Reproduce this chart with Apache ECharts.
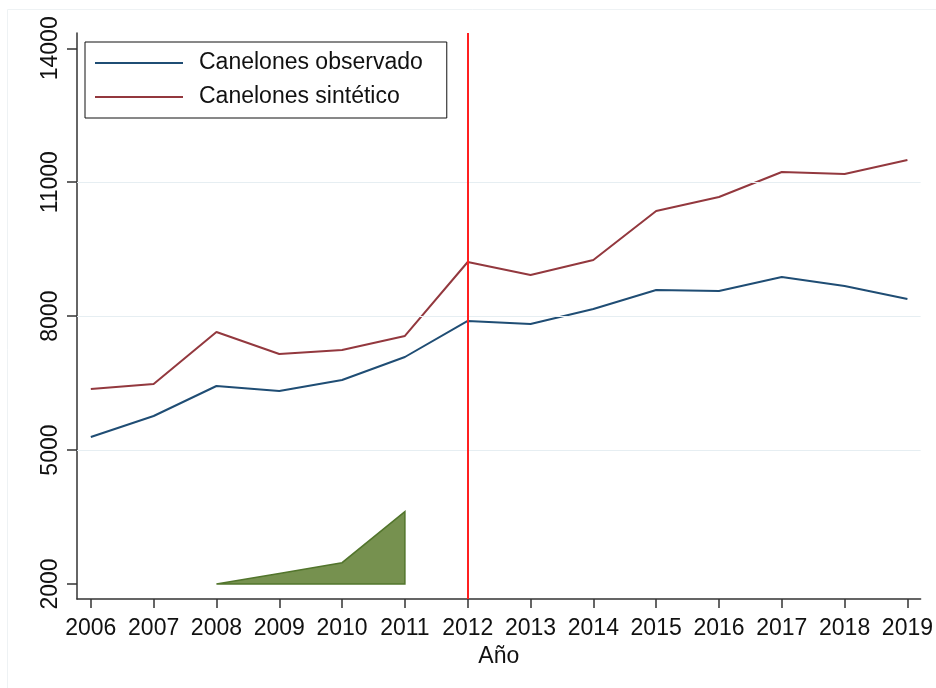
<!DOCTYPE html>
<html>
<head>
<meta charset="utf-8">
<script src="https://cdn.jsdelivr.net/npm/echarts@6/dist/echarts.min.js"></script>
<style>html,body{margin:0;padding:0;background:#fff;}#c{width:936px;height:688px;}</style>
</head>
<body>
<div id="c"></div>
<script>
const years = [2006,2007,2008,2009,2010,2011,2012,2013,2014,2015,2016,2017,2018,2019];
const observado = [5293,5763,6435,6323,6570,7085,7892,7824,8160,8586,8564,8877,8676,8384];
const sintetico = [6368,6480,7645,7152,7242,7556,9213,8922,9258,10356,10669,11229,11185,11498];
const greenYears = [2008,2009,2010,2011];
const greenValues = [2000,2235,2477,3620];
const greenBase = 2000;
const yTicks = [2000,5000,8000,11000,14000];
const gridValues = [5000,8000,11000];
const treatYear = 2012;
const FONT = '"Liberation Sans", Arial, sans-serif';

const chart = echarts.init(document.getElementById('c'), null, {renderer:'canvas'});
chart.setOption({
  animation:false,
  backgroundColor:'#fff',
  textStyle:{fontFamily:FONT},
  graphic:[{type:'rect', shape:{x:7.5,y:9.5,width:1000,height:1000}, style:{fill:'none', stroke:'#eef2f4', lineWidth:1}, z:-10, silent:true}],
  grid:{left:77, right:14, top:33, bottom:89, containLabel:false},
  legend:{
    orient:'vertical', left:85, top:42,
    data:['Canelones observado','Canelones sintético'],
    icon:'rect',
    borderColor:'#111', borderWidth:1, borderRadius:0,
    padding:[8,24,8,10], itemGap:8,
    itemWidth:88, itemHeight:2,
    textStyle:{fontFamily:FONT, fontSize:23, color:'#111', lineHeight:26, padding:[0,0,0,11]},
    backgroundColor:'#fff'
  },
  xAxis:{
    type:'value', min:2005.78, max:2019.21,
    name:'Año', nameLocation:'middle', nameGap:44,
    nameTextStyle:{fontFamily:FONT, fontSize:23, color:'#111'},
    axisLine:{show:true, lineStyle:{color:'#333', width:1.5}},
    axisTick:{show:true, length:9, lineStyle:{color:'#333', width:1.5}, customValues:years},
    axisLabel:{fontFamily:FONT, fontSize:23, color:'#111', margin:18, customValues:years, formatter:v=>String(v)},
    splitLine:{show:false}
  },
  yAxis:{
    type:'value', min:1664, max:14343,
    axisLine:{show:true, lineStyle:{color:'#333', width:1.5}},
    axisTick:{show:true, length:10, lineStyle:{color:'#333', width:1.5}, customValues:yTicks},
    axisLabel:{fontFamily:FONT, fontSize:23, color:'#111', rotate:90, margin:15, customValues:yTicks, formatter:v=>String(v)},
    splitLine:{show:false}
  },
  series:[
    {
      name:'gridlines', type:'line', data:[], silent:true,
      markLine:{silent:true, symbol:'none', label:{show:false},
        lineStyle:{color:'#e6eef2', width:1.2, type:'solid'},
        data:gridValues.map(v=>({yAxis:v}))},
      z:1
    },
    {
      name:'area', type:'custom', silent:true, z:2,
      data:[[0]],
      renderItem:function(params, api){
        const pts = greenYears.map((y,i)=>api.coord([y, greenValues[i]]));
        pts.push(api.coord([greenYears[greenYears.length-1], greenBase]));
        pts.push(api.coord([greenYears[0], greenBase]));
        return {type:'polygon', shape:{points:pts}, style:{fill:'#76914f', stroke:'#52752c', lineWidth:1.5}};
      }
    },
    {
      name:'Canelones observado', type:'line', symbol:'none', z:3,
      data:years.map((y,i)=>[y, observado[i]]),
      lineStyle:{color:'#1f4d74', width:2}, itemStyle:{color:'#1f4d74'}
    },
    {
      name:'Canelones sintético', type:'line', symbol:'none', z:3,
      data:years.map((y,i)=>[y, sintetico[i]]),
      lineStyle:{color:'#93383e', width:2}, itemStyle:{color:'#93383e'},
      markLine:{silent:true, symbol:'none', label:{show:false},
        lineStyle:{color:'#ff2020', width:2, type:'solid'},
        data:[{xAxis:treatYear}]}
    }
  ]
});
</script>
</body>
</html>
